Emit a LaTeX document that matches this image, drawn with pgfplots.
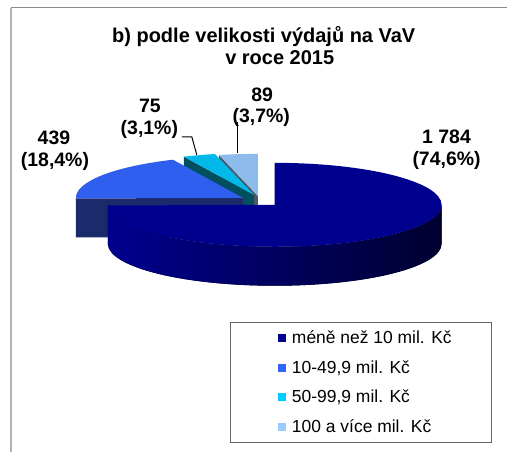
\documentclass[border=0pt]{standalone}
\usepackage{pgfplots}
\usepackage{pgfplotstable}
\pgfplotsset{compat=1.18}
\usepackage{fontspec}
\setmainfont{Liberation Sans}
\definecolor{cMain}{HTML}{00008E}
\definecolor{cMainMid}{HTML}{000070}
\definecolor{cMainDark}{HTML}{000030}
\definecolor{cBlue}{HTML}{2F5FEE}
\definecolor{cBlueSide}{HTML}{1B2A6B}
\definecolor{cCyan}{HTML}{00B9E8}
\definecolor{cCyanSide}{HTML}{00505F}
\definecolor{cLight}{HTML}{8DBCEC}
\definecolor{cLightSide}{HTML}{4A5A6A}
\definecolor{lMain}{HTML}{000090}
\definecolor{lBlue}{HTML}{3366FF}
\definecolor{lCyan}{HTML}{00CCFF}
\definecolor{lLight}{HTML}{99CCFF}
% values and (exploded) slice centres in pixel coordinates
\pgfplotstableread{
name value cx cy
a 1784 275 205
b 439 243 198
c 75 254 195
d 89 258 196
}\piedata
\begin{document}%
\begin{tikzpicture}
\pgfplotstablegetelem{0}{value}\of\piedata \let\va\pgfplotsretval
\pgfplotstablegetelem{1}{value}\of\piedata \let\vb\pgfplotsretval
\pgfplotstablegetelem{2}{value}\of\piedata \let\vc\pgfplotsretval
\pgfplotstablegetelem{3}{value}\of\piedata \let\vd\pgfplotsretval
\pgfmathsetmacro\tot{\va+\vb+\vc+\vd}
\pgfmathsetmacro\aA{90-(\va/\tot)*360}
\pgfmathsetmacro\aB{\aA-(\vb/\tot)*360}
\pgfmathsetmacro\aC{\aB-(\vc/\tot)*360}
\def\ra{167}\def\rb{42}\def\dep{39}
\pgfmathsetmacro\RA{\ra*0.75}
\pgfmathsetmacro\RB{\rb*0.75}
\pgfmathsetmacro\DP{\dep*0.75}
\pgfmathsetmacro\dX{258+\ra*cos(\aC)}\pgfmathsetmacro\dY{196-\rb*sin(\aC)}
\pgfmathsetmacro\cX{254+\ra*cos(\aB)}\pgfmathsetmacro\cY{195-\rb*sin(\aB)}
\pgfmathsetmacro\bX{243+\ra*cos(\aA)}\pgfmathsetmacro\bY{198-\rb*sin(\aA)}
\begin{axis}[
  scale only axis, width=380.25pt, height=339pt,
  xmin=0, xmax=507, ymin=0, ymax=452, y dir=reverse,
  hide axis, clip=false,
]
\path (axis cs:0,0) rectangle (axis cs:507,452);
% frame
\draw[color=black!45, line width=0.75pt] (axis cs:11,8) -- (axis cs:507,8);
\draw[color=black!30, line width=1.5pt] (axis cs:11,8) -- (axis cs:11,452);
% title
\node[anchor=base, font=\fontsize{15}{17}\selectfont\bfseries] at (axis cs:264,43) {b) podle velikosti výdajů na VaV};
\node[anchor=base, font=\fontsize{15}{17}\selectfont\bfseries] at (axis cs:280,65) {v roce 2015};
% light blue slice (100+)
\fill[cLightSide] (axis cs:258,196) -- (axis cs:\dX,\dY) -- ++(0,-\DP pt) -- (axis cs:258,235) -- cycle;
\fill[cLight] (axis cs:258,196) -- (axis cs:\dX,\dY) arc[start angle=\aC, end angle=-270, x radius=\RA pt, y radius=\RB pt] -- cycle;
% cyan slice (50-99,9)
\fill[cCyanSide] (axis cs:254,195) -- (axis cs:\cX,\cY) -- ++(0,-\DP pt) -- (axis cs:254,234) -- cycle;
\fill[cCyan] (axis cs:254,195) -- (axis cs:\cX,\cY) arc[start angle=\aB, end angle=\aC, x radius=\RA pt, y radius=\RB pt] -- cycle;
% blue slice (10-49,9)
\fill[cBlueSide] (axis cs:243,198) -- (axis cs:\bX,\bY) -- ++(0,-\DP pt) -- (axis cs:243,237) -- cycle;
\fill[cBlue] (axis cs:243,198) -- (axis cs:\bX,\bY) arc[start angle=\aA, end angle=\aB, x radius=\RA pt, y radius=\RB pt] -- cycle;
% main slice
\fill[left color=cMain, middle color=cMainMid, right color=cMainDark] (axis cs:442,205) arc[start angle=0, end angle=\aA, x radius=\RA pt, y radius=\RB pt] -- ++(0,-\DP pt) arc[start angle=\aA, end angle=0, x radius=\RA pt, y radius=\RB pt] -- cycle;
\fill[cMain] (axis cs:275,205) -- (axis cs:275,163) arc[start angle=90, end angle=\aA, x radius=\RA pt, y radius=\RB pt] -- cycle;
% leader lines
\draw[black, line width=0.75pt] (axis cs:182,137) -- (axis cs:192,137) -- (axis cs:197,155);
\draw[black, line width=0.75pt] (axis cs:238,122) -- (axis cs:238,153);
% data labels
\tikzset{lab/.style={anchor=base, font=\fontsize{14.6}{17}\selectfont\bfseries}}
\node[lab] at (axis cs:447,144) {1 784};
\node[lab] at (axis cs:447,166) {(74,6\%)};
\node[lab] at (axis cs:54,145) {439};
\node[lab] at (axis cs:55,167) {(18,4\%)};
\node[lab] at (axis cs:150,113) {75};
\node[lab] at (axis cs:149.5,135) {(3,1\%)};
\node[lab] at (axis cs:262.5,102) {89};
\node[lab] at (axis cs:261.5,123) {(3,7\%)};
% legend
\draw[color=black!60, line width=0.75pt, fill=white] (axis cs:231,323) rectangle (axis cs:492,443);
\fill[lMain] (axis cs:278,334) rectangle (axis cs:286,342);
\fill[lBlue] (axis cs:278,364) rectangle (axis cs:286,372);
\fill[lCyan] (axis cs:278,393) rectangle (axis cs:286,401);
\fill[lLight] (axis cs:278,423) rectangle (axis cs:286,431);
\tikzset{leg/.style={anchor=base west, inner xsep=0pt, font=\fontsize{13.1}{15}\selectfont}}
\node[leg] at (axis cs:292,344) {méně než 10 mil. Kč};
\node[leg] at (axis cs:292,374) {10-49,9 mil. Kč};
\node[leg] at (axis cs:292,403) {50-99,9 mil. Kč};
\node[leg] at (axis cs:292,433) {100 a více mil. Kč};
\end{axis}
\end{tikzpicture}%
\end{document}
